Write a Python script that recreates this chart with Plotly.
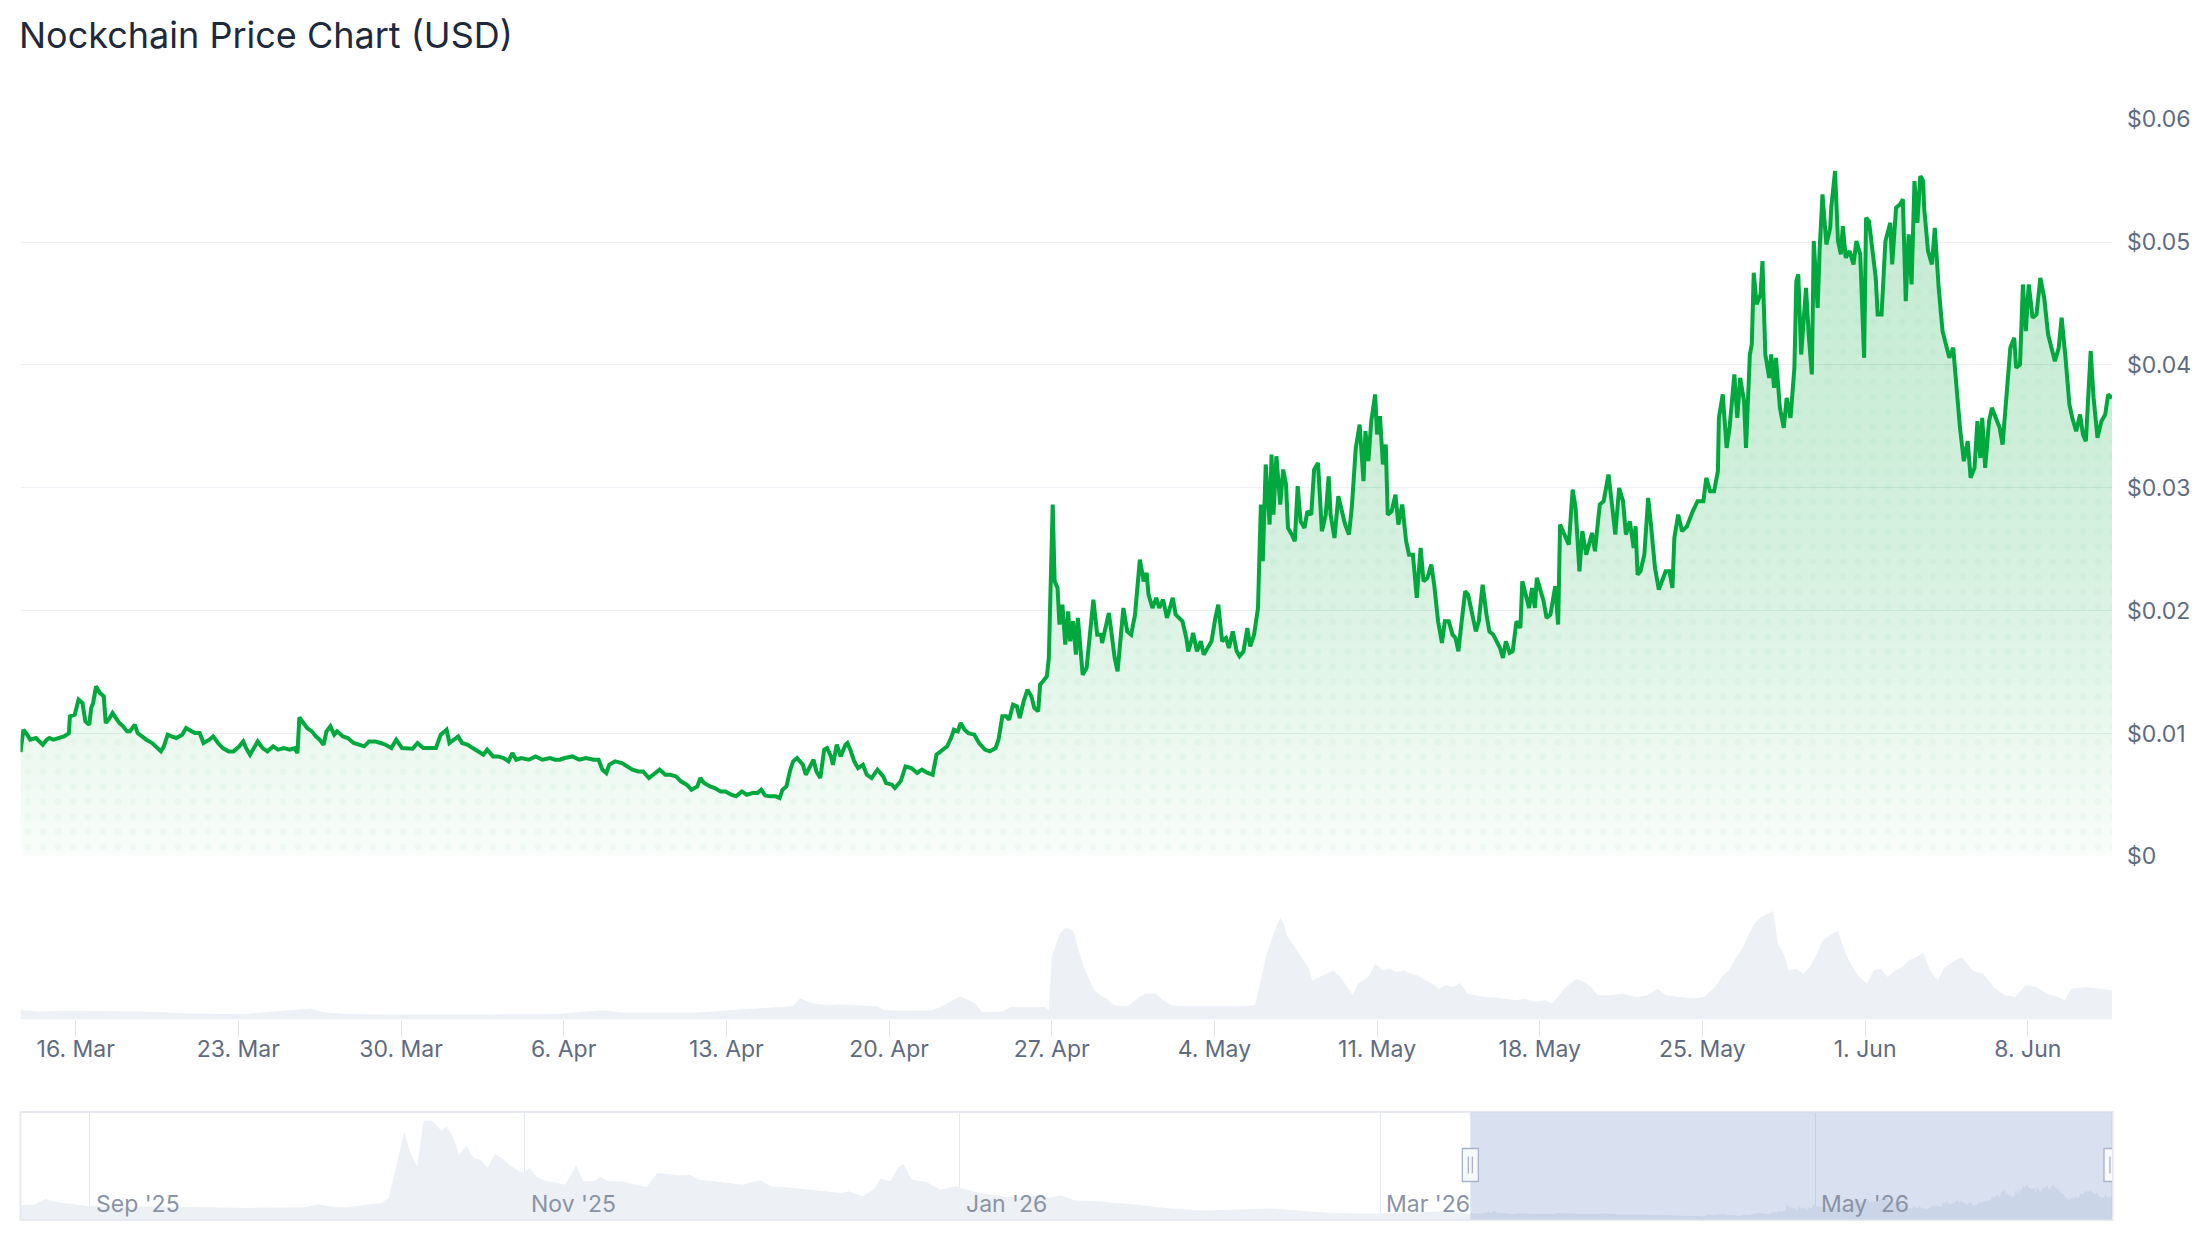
import pandas as pd
import plotly.graph_objects as go

W, FIG_H = 2208, 1248
# the captured picture maps figure pixel y to 0.9773*y + 12.8; targets are given in picture pixels
PIC_SCALE, PIC_OFF = 0.9773, 12.8
TITLE = "Nockchain Price Chart (USD)"

# ---------------- data ----------------
price_start = "2026-03-13 15:00"
price_hours = [
    0, 3, 7, 10, 16, 19, 23, 27, 30, 34, 40, 45, 50, 51, 56, 60, 64, 67, 71, 73, 75, 78, 82, 86, 88, 91, 95, 99,
    102, 106, 110, 113, 118, 121, 125, 130, 136, 141, 145, 148, 152, 156, 161, 167, 171, 174, 180, 185, 189, 195,
    199, 204, 209, 215, 220, 226, 230, 233, 237, 241, 245, 250, 255, 261, 266, 272, 278, 283, 286, 288, 292, 296,
    301, 305, 309, 313, 316, 320, 324, 327, 333, 338, 344, 349, 355, 360, 366, 372, 377, 383, 388, 394, 399, 405,
    410, 416, 421, 429, 434, 440, 443, 447, 452, 456, 462, 467, 473, 478, 482, 488, 493, 499, 504, 508, 512, 517,
    525, 532, 539, 547, 552, 557, 562, 570, 577, 584, 592, 597, 601, 605, 608, 614, 621, 627, 632, 638, 643, 649,
    655, 660, 666, 671, 677, 682, 688, 693, 699, 702, 706, 712, 717, 723, 728, 734, 739, 745, 750, 756, 761, 765,
    769, 774, 780, 784, 787, 791, 795, 798, 802, 808, 811, 815, 819, 822, 826, 830, 833, 837, 839, 843, 847, 852,
    854, 857, 861, 865, 870, 874, 879, 885, 891, 894, 900, 903, 909, 914, 920, 926, 931, 937, 942, 946, 951, 957,
    961, 964, 968, 971, 975, 979, 985, 990, 996, 1001, 1007, 1010, 1014, 1018, 1021, 1025, 1029, 1032, 1036, 1040,
    1044, 1047, 1051, 1053, 1056, 1060, 1062, 1064, 1066, 1068, 1071, 1073, 1076, 1079, 1082, 1084, 1087, 1090,
    1092, 1094, 1097, 1101, 1104, 1108, 1112, 1116, 1117, 1121, 1124, 1127, 1130, 1133, 1136, 1139, 1143, 1147,
    1151, 1154, 1156, 1160, 1163, 1165, 1169, 1173, 1176, 1180, 1184, 1187, 1190, 1193, 1197, 1200, 1204, 1206,
    1210, 1211, 1215, 1219, 1222, 1226, 1230, 1234, 1237, 1241, 1245, 1248, 1252, 1256, 1259, 1263, 1267, 1270,
    1274, 1278, 1281, 1283, 1286, 1290, 1292, 1294, 1297, 1301, 1304, 1307, 1309, 1313, 1316, 1319, 1322, 1326,
    1329, 1333, 1336, 1340, 1344, 1348, 1351, 1353, 1357, 1361, 1364, 1368, 1372, 1375, 1379, 1383, 1387, 1389,
    1392, 1395, 1399, 1401, 1404, 1407, 1410, 1412, 1416, 1420, 1423, 1427, 1431, 1434, 1438, 1442, 1446, 1449,
    1453, 1457, 1460, 1464, 1468, 1471, 1475, 1479, 1482, 1485, 1488, 1492, 1495, 1499, 1503, 1506, 1510, 1514,
    1517, 1521, 1525, 1528, 1531, 1534, 1538, 1541, 1545, 1549, 1551, 1554, 1558, 1561, 1564, 1566, 1569, 1573,
    1576, 1580, 1585, 1588, 1590, 1595, 1599, 1603, 1606, 1610, 1613, 1617, 1623, 1626, 1631, 1635, 1638, 1640,
    1644, 1647, 1651, 1655, 1658, 1662, 1666, 1668, 1670, 1673, 1677, 1681, 1684, 1688, 1692, 1695, 1699, 1703,
    1706, 1708, 1712, 1716, 1721, 1727, 1732, 1738, 1741, 1745, 1749, 1753, 1754, 1758, 1762, 1765, 1770, 1773,
    1776, 1780, 1782, 1786, 1788, 1790, 1793, 1797, 1799, 1802, 1806, 1808, 1811, 1813, 1817, 1821, 1824, 1828,
    1832, 1834, 1836, 1839, 1844, 1847, 1850, 1852, 1856, 1858, 1861, 1865, 1869, 1870, 1874, 1877, 1880, 1882,
    1885, 1889, 1893, 1896, 1900, 1904, 1906, 1909, 1913, 1916, 1918, 1922, 1926, 1931, 1933, 1937, 1941, 1944,
    1947, 1950, 1953, 1956, 1959, 1962, 1965, 1966, 1970, 1974, 1977, 1981, 1985, 1988, 1992, 1996, 2000, 2003,
    2007, 2011, 2014, 2018, 2021, 2024, 2026, 2029, 2033, 2036, 2040, 2044, 2047, 2051, 2055, 2059, 2061, 2065,
    2068, 2071, 2074, 2078, 2082, 2086, 2090, 2094, 2097, 2101, 2105, 2108, 2112, 2116, 2119, 2123, 2127, 2130,
    2133, 2138, 2141, 2145, 2149, 2153, 2156, 2160,
]
price_usd = [
    0.00850, 0.01031, 0.00991, 0.00950, 0.00964, 0.00936, 0.00909, 0.00950, 0.00964, 0.00950, 0.00964, 0.00977,
    0.01004, 0.01140, 0.01154, 0.01276, 0.01249, 0.01099, 0.01072, 0.01208, 0.01249, 0.01384, 0.01330, 0.01303,
    0.01086, 0.01113, 0.01167, 0.01113, 0.01086, 0.01059, 0.01018, 0.01018, 0.01072, 0.01004, 0.00977, 0.00950,
    0.00923, 0.00882, 0.00855, 0.00896, 0.00991, 0.00977, 0.00964, 0.00991, 0.01045, 0.01031, 0.01004, 0.01004,
    0.00923, 0.00950, 0.00977, 0.00923, 0.00882, 0.00855, 0.00855, 0.00896, 0.00936, 0.00882, 0.00828, 0.00882,
    0.00936, 0.00882, 0.00855, 0.00896, 0.00869, 0.00882, 0.00869, 0.00882, 0.00841, 0.01132, 0.01086, 0.01045,
    0.01018, 0.00977, 0.00950, 0.00909, 0.01018, 0.01059, 0.00991, 0.01018, 0.00977, 0.00964, 0.00923, 0.00909,
    0.00896, 0.00936, 0.00936, 0.00923, 0.00909, 0.00882, 0.00950, 0.00882, 0.00877, 0.00877, 0.00923, 0.00882,
    0.00882, 0.00882, 0.00991, 0.01031, 0.00923, 0.00950, 0.00977, 0.00923, 0.00909, 0.00882, 0.00855, 0.00828,
    0.00869, 0.00814, 0.00814, 0.00801, 0.00774, 0.00841, 0.00787, 0.00801, 0.00787, 0.00814, 0.00787, 0.00801,
    0.00787, 0.00787, 0.00801, 0.00814, 0.00787, 0.00801, 0.00787, 0.00787, 0.00706, 0.00679, 0.00746, 0.00774,
    0.00760, 0.00733, 0.00706, 0.00692, 0.00692, 0.00638, 0.00679, 0.00706, 0.00665, 0.00665, 0.00651, 0.00611,
    0.00584, 0.00543, 0.00570, 0.00638, 0.00597, 0.00570, 0.00557, 0.00529, 0.00529, 0.00502, 0.00489, 0.00529,
    0.00502, 0.00516, 0.00516, 0.00543, 0.00497, 0.00489, 0.00489, 0.00475, 0.00543, 0.00570, 0.00706, 0.00774,
    0.00801, 0.00746, 0.00665, 0.00733, 0.00787, 0.00692, 0.00638, 0.00869, 0.00882, 0.00814, 0.00746, 0.00909,
    0.00814, 0.00909, 0.00923, 0.00869, 0.00774, 0.00719, 0.00746, 0.00665, 0.00638, 0.00706, 0.00651, 0.00597,
    0.00584, 0.00557, 0.00611, 0.00733, 0.00719, 0.00679, 0.00706, 0.00679, 0.00665, 0.00828, 0.00855, 0.00896,
    0.00964, 0.01031, 0.01018, 0.01086, 0.01031, 0.01004, 0.00991, 0.00923, 0.00869, 0.00855, 0.00882, 0.00950,
    0.01140, 0.01140, 0.01113, 0.01235, 0.01222, 0.01127, 0.01262, 0.01357, 0.01303, 0.01208, 0.01181, 0.01398,
    0.01425, 0.01466, 0.01615, 0.02239, 0.02864, 0.02239, 0.02185, 0.01887, 0.02049, 0.01724, 0.01995, 0.01751,
    0.01914, 0.01642, 0.01941, 0.01751, 0.01479, 0.01534, 0.01778, 0.02090, 0.01805, 0.01805, 0.01737, 0.01859,
    0.01982, 0.01805, 0.01615, 0.01507, 0.01778, 0.02022, 0.01832, 0.01805, 0.01968, 0.02239, 0.02416, 0.02239,
    0.02307, 0.02131, 0.02022, 0.02104, 0.02022, 0.02090, 0.01941, 0.02022, 0.02104, 0.01968, 0.01941, 0.01914,
    0.01778, 0.01669, 0.01778, 0.01819, 0.01669, 0.01751, 0.01642, 0.01696, 0.01751, 0.01941, 0.02049, 0.01751,
    0.01778, 0.01696, 0.01832, 0.01669, 0.01629, 0.01669, 0.01859, 0.01710, 0.01805, 0.02022, 0.02864, 0.02402,
    0.03190, 0.02701, 0.03271, 0.02782, 0.03257, 0.02864, 0.03149, 0.03027, 0.02674, 0.02619, 0.02565, 0.03013,
    0.02728, 0.02674, 0.02809, 0.02782, 0.03149, 0.03203, 0.02647, 0.02782, 0.03094, 0.02782, 0.02592, 0.02932,
    0.02837, 0.02701, 0.02619, 0.02850, 0.03325, 0.03515, 0.03054, 0.03461, 0.03217, 0.03542, 0.03760, 0.03434,
    0.03583, 0.03190, 0.03352, 0.02782, 0.02809, 0.02945, 0.02701, 0.02864, 0.02565, 0.02456, 0.02456, 0.02104,
    0.02511, 0.02239, 0.02267, 0.02375, 0.02212, 0.01914, 0.01737, 0.01914, 0.01914, 0.01805, 0.01778, 0.01669,
    0.01887, 0.02158, 0.02131, 0.01968, 0.01832, 0.01914, 0.02212, 0.01968, 0.01832, 0.01805, 0.01751, 0.01696,
    0.01615, 0.01751, 0.01656, 0.01669, 0.01914, 0.01859, 0.02239, 0.02131, 0.02022, 0.02185, 0.02022, 0.02267,
    0.02185, 0.02077, 0.01941, 0.01968, 0.02199, 0.01887, 0.02701, 0.02619, 0.02538, 0.02986, 0.02837, 0.02321,
    0.02647, 0.02456, 0.02633, 0.02484, 0.02864, 0.02891, 0.03027, 0.03108, 0.02837, 0.02619, 0.02999, 0.02891,
    0.02619, 0.02728, 0.02511, 0.02687, 0.02294, 0.02321, 0.02456, 0.02918, 0.02687, 0.02348, 0.02172, 0.02239,
    0.02321, 0.02321, 0.02185, 0.02592, 0.02782, 0.02647, 0.02687, 0.02809, 0.02891, 0.02891, 0.03081, 0.02972,
    0.02972, 0.03135, 0.03569, 0.03760, 0.03325, 0.03488, 0.03923, 0.03569, 0.03895, 0.03705, 0.03325, 0.04085,
    0.04167, 0.04750, 0.04493, 0.04574, 0.04845, 0.04085, 0.03895, 0.04085, 0.03814, 0.04058, 0.03651, 0.03488,
    0.03732, 0.03569, 0.03977, 0.04682, 0.04737, 0.04085, 0.04628, 0.04221, 0.03923, 0.05008, 0.04465, 0.04927,
    0.05388, 0.04981, 0.05116, 0.05279, 0.05578, 0.05008, 0.04900, 0.05130, 0.04872, 0.04927, 0.04818, 0.05008,
    0.04900, 0.04058, 0.05198, 0.05171, 0.04872, 0.04709, 0.04411, 0.04411, 0.05008, 0.05157, 0.04818, 0.05279,
    0.05307, 0.05348, 0.04520, 0.05063, 0.04655, 0.05497, 0.05157, 0.05537, 0.05497, 0.05279, 0.04927, 0.04818,
    0.05116, 0.04628, 0.04275, 0.04194, 0.04058, 0.04140, 0.03732, 0.03488, 0.03217, 0.03380, 0.03081, 0.03162,
    0.03542, 0.03243, 0.03569, 0.03162, 0.03542, 0.03651, 0.03569, 0.03488, 0.03352, 0.03787, 0.04140, 0.04221,
    0.03977, 0.04004, 0.04655, 0.04275, 0.04655, 0.04384, 0.04411, 0.04709, 0.04546, 0.04248, 0.04140, 0.04031,
    0.04140, 0.04384, 0.04058, 0.03678, 0.03569, 0.03461, 0.03597, 0.03434, 0.03380, 0.04112, 0.03732, 0.03407,
    0.03542, 0.03597, 0.03760, 0.03732,
]

volume_hours = [
    0, 20, 51, 90, 124, 150, 174, 230, 290, 300, 312, 341, 450, 550, 602, 623, 700, 783, 797, 805, 819, 834, 848,
    870, 884, 892, 913, 942, 950, 971, 986, 993, 1015, 1022, 1058, 1062, 1065, 1073, 1080, 1087, 1098, 1109, 1115,
    1122, 1129, 1144, 1155, 1162, 1173, 1180, 1188, 1202, 1217, 1232, 1246, 1261, 1275, 1281, 1286, 1294, 1301,
    1305, 1308, 1316, 1323, 1330, 1334, 1341, 1348, 1356, 1363, 1370, 1376, 1381, 1392, 1399, 1407, 1414, 1421,
    1429, 1436, 1443, 1451, 1458, 1465, 1472, 1480, 1487, 1494, 1502, 1513, 1523, 1534, 1545, 1553, 1564, 1575,
    1582, 1589, 1596, 1607, 1615, 1622, 1629, 1640, 1655, 1669, 1680, 1691, 1699, 1713, 1728, 1739, 1750, 1757,
    1764, 1772, 1779, 1785, 1790, 1797, 1804, 1810, 1815, 1821, 1826, 1834, 1841, 1848, 1855, 1861, 1870, 1877,
    1885, 1892, 1899, 1907, 1914, 1921, 1928, 1936, 1943, 1950, 1958, 1965, 1972, 1980, 1987, 1998, 2005, 2016,
    2027, 2038, 2049, 2060, 2071, 2082, 2093, 2104, 2111, 2118, 2133, 2144, 2160,
]
volume_k = [
    280, 240, 260, 250, 240, 210, 180, 160, 320, 330, 220, 160, 150, 160, 280, 200, 210, 360, 400, 630, 480, 430, 450,
    420, 400, 280, 260, 280, 380, 700, 480, 220, 240, 380, 380, 280, 1880, 2580, 2780, 2680, 1580, 880, 730,
    630, 430, 400, 680, 780, 780, 580, 430, 400, 400, 380, 380, 400, 430, 1280, 1880, 2580, 3080,
    2880, 2530, 2180, 1880, 1580, 1180, 1280, 1380, 1480, 1280, 980, 730, 1080, 1280, 1680, 1480, 1530, 1430,
    1480, 1380, 1330, 1180, 1080, 930, 1030, 980, 1100, 780, 730, 680, 660, 630, 580, 630, 530, 580,
    480, 730, 980, 1230, 1130, 980, 730, 730, 780, 680, 730, 930, 730, 680, 630, 680, 980, 1280,
    1480, 1880, 2180, 2580, 2880, 3080, 3180, 3280, 2280, 1980, 1480, 1530, 1380, 1580, 1980, 2380, 2580, 2680,
    1980, 1580, 1280, 1080, 1480, 1530, 1280, 1480, 1580, 1780, 1880, 2030, 1480, 1180, 1580, 1780, 1880, 1480,
    1380, 980, 730, 680, 1030, 980, 780, 680, 580, 930, 980, 930, 880,
]

nav_origin = "2025-09-01"
nav_days = [
    -9.73, -7.75, -6.26, -5.27, -3.78, -1.79, 0, 7.1, 13.1, 17.1, 22.0, 27.0, 30.0, 32.0, 33.9, 35.9, 37.9, 40.9,
    41.9, 42.9, 44.1, 44.9, 45.9, 46.8, 48.0, 49.3, 50.0, 50.8, 51.8, 52.8, 53.8, 54.8, 55.8, 56.8, 57.8, 58.8,
    60.2, 60.8, 61.7, 62.7, 64.2, 65.7, 66.7, 68.2, 69.2, 70.7, 71.7, 72.6, 74.6, 76.6, 78.1, 79.6, 81.1, 82.6,
    84.1, 85.5, 87.5, 89.5, 91.5, 94.0, 95.5, 97.5, 99.4, 102.4, 105.4, 106.4, 108.4, 109.9, 110.9, 112.3, 113.3,
    114.1, 115.3, 117.3, 119.3, 121.3, 124.3, 126.2, 128.2, 130.2, 132.2, 134.2, 136.2, 138.2, 141.1, 146.5,
    151.5, 156.4, 161.4, 165.4, 169.3, 174.3, 179.2, 181.2, 186.2, 191.1,
]
nav_price = [
    0.0227, 0.0237, 0.0327, 0.0290, 0.0264, 0.0237, 0.0211, 0.0206, 0.0206, 0.0195, 0.0184, 0.0184, 0.0195, 0.0237,
    0.0206, 0.0195, 0.0227, 0.0264, 0.0343, 0.0817, 0.1386, 0.1080, 0.0827, 0.1565, 0.1565, 0.1407, 0.1470, 0.1344,
    0.1028, 0.1175, 0.0975, 0.0949, 0.0817, 0.1038, 0.0975, 0.0870, 0.0764, 0.0738, 0.0817, 0.0669, 0.0606, 0.0580,
    0.0553, 0.0859, 0.0606, 0.0606, 0.0680, 0.0606, 0.0606, 0.0553, 0.0511, 0.0738, 0.0722, 0.0701, 0.0711, 0.0632,
    0.0606, 0.0580, 0.0553, 0.0622, 0.0527, 0.0511, 0.0490, 0.0458, 0.0422, 0.0448, 0.0369, 0.0474, 0.0648, 0.0606,
    0.0817, 0.0880, 0.0632, 0.0596, 0.0474, 0.0527, 0.0437, 0.0395, 0.0369, 0.0343, 0.0379, 0.0343, 0.0385, 0.0300,
    0.0290, 0.0237, 0.0174, 0.0142, 0.0158, 0.0174, 0.0142, 0.0105, 0.0095, 0.0095, 0.0116, 0.0132,
]

week_ticks = ["2026-03-16", "2026-03-23", "2026-03-30", "2026-04-06", "2026-04-13", "2026-04-20", "2026-04-27",
              "2026-05-04", "2026-05-11", "2026-05-18", "2026-05-25", "2026-06-01", "2026-06-08"]
week_labels = ["16. Mar", "23. Mar", "30. Mar", "6. Apr", "13. Apr", "20. Apr", "27. Apr",
               "4. May", "11. May", "18. May", "25. May", "1. Jun", "8. Jun"]
nav_ticks = ["2025-09-01", "2025-11-01", "2026-01-01", "2026-03-01", "2026-05-01"]
nav_labels = ["Sep '25", "Nov '25", "Jan '26", "Mar '26", "May '26"]
price_ticks = [0, 0.01, 0.02, 0.03, 0.04, 0.05, 0.06]
price_labels = ["$0", "$0.01", "$0.02", "$0.03", "$0.04", "$0.05", "$0.06"]

# ---------------- derived series ----------------
t0 = pd.Timestamp(price_start)
price_x = t0 + pd.to_timedelta(price_hours, unit="h")
vol_x = t0 + pd.to_timedelta(volume_hours, unit="h")
t_end = t0 + pd.Timedelta(hours=price_hours[-1])
nav_hist_x = pd.Timestamp(nav_origin) + pd.to_timedelta(nav_days, unit="D")
nav_x = list(nav_hist_x) + list(price_x)
nav_y = list(nav_price) + list(price_usd)
nav_start = nav_hist_x[0]


def px(x):
    return x / W


def py(y):
    # y in pixels of the final picture -> paper coordinate of the figure
    fig_y = (y - PIC_OFF) / PIC_SCALE
    return 1 - fig_y / FIG_H


def dpy(h):
    return h / PIC_SCALE


X_DOM = [px(20.5), px(2112)]
FONT = "Inter, 'Noto Sans', sans-serif"
GREEN = "#00a83e"
LABEL = "#5f6b80"

fig = go.Figure()

# gradient area under the price line
fig.add_trace(go.Scatter(
    x=price_x, y=price_usd, mode="lines", xaxis="x", yaxis="y",
    line=dict(color="rgba(0,0,0,0)", width=0),
    fill="tozeroy",
    fillgradient=dict(
        type="vertical", start=0, stop=0.056,
        colorscale=[[0, "rgba(0,168,62,0.01)"], [0.1, "rgba(0,168,62,0.05)"],
                    [0.2, "rgba(0,168,62,0.08)"], [0.4, "rgba(0,168,62,0.15)"],
                    [0.6, "rgba(0,168,62,0.19)"], [1, "rgba(0,168,62,0.23)"]],
    ),
    hoverinfo="skip", showlegend=False,
))
# faint dotted texture inside the area, plus the price line itself
fig.add_trace(go.Scatter(
    x=price_x, y=price_usd, mode="lines", xaxis="x", yaxis="y",
    line=dict(color=GREEN, width=4),
    fill="tozeroy", fillcolor="rgba(0,0,0,0)",
    fillpattern=dict(shape=".", size=15, solidity=0.18, fgcolor="rgba(0,168,62,0.07)",
                     bgcolor="rgba(0,0,0,0)", fillmode="overlay"),
    hoverinfo="skip", showlegend=False,
))

fig.add_trace(go.Scatter(
    x=vol_x, y=volume_k, mode="lines", xaxis="x", yaxis="y3",
    line=dict(width=0, color="#edf0f4"), fill="tozeroy", fillcolor="#edf0f4",
    hoverinfo="skip", showlegend=False,
))

fig.add_trace(go.Scatter(
    x=nav_x, y=nav_y, mode="lines", xaxis="x2", yaxis="y2",
    line=dict(width=0, color="#edf0f4"), fill="tozeroy", fillcolor="#edf0f4",
    hoverinfo="skip", showlegend=False,
))

shapes = []
shapes.append(dict(type="rect", xref="paper", yref="paper", x0=px(20.5), x1=px(2112.5),
                   y0=py(1218.5), y1=py(1110.5), line=dict(color="#e6eaf0", width=2),
                   fillcolor="rgba(0,0,0,0)", layer="above"))
shapes.append(dict(type="rect", xref="x2", yref="paper", x0=t0, x1=t_end,
                   y0=py(1218), y1=py(1111), line=dict(width=0),
                   fillcolor="rgba(102,133,194,0.25)", layer="above"))
for anchor in (t0, t_end):
    shapes.append(dict(type="rect", xref="x2", yref="paper", xsizemode="pixel", xanchor=anchor,
                       x0=-8, x1=8, y0=py(1180), y1=py(1147),
                       fillcolor="#f7f9fc", line=dict(color="#a9b4ca", width=1.3), layer="above"))
    for off in (-2, 2):
        shapes.append(dict(type="line", xref="x2", yref="paper", xsizemode="pixel", xanchor=anchor,
                           x0=off, x1=off, y0=py(1172), y1=py(1155),
                           line=dict(color="#a9b4ca", width=1.3), layer="above"))

annotations = [dict(text=TITLE, xref="paper", yref="paper", x=px(17), y=py(34),
                    xanchor="left", yanchor="middle", showarrow=False,
                    font=dict(family=FONT, size=36, color="#1e293b"))]
for t, lab in zip(nav_ticks, nav_labels):
    annotations.append(dict(text=lab, xref="x2", yref="paper", x=t, y=py(1202),
                            xanchor="left", yanchor="middle", xshift=4, showarrow=False,
                            font=dict(family=FONT, size=23, color="#8a93a5")))

fig.update_layout(
    width=W, height=FIG_H, margin=dict(l=0, r=0, t=0, b=0),
    paper_bgcolor="white", plot_bgcolor="white",
    font=dict(family=FONT),
    showlegend=False,
    shapes=shapes, annotations=annotations,
    xaxis=dict(domain=X_DOM, range=[t0, t_end], anchor="y3", type="date",
               tickvals=week_ticks, ticktext=week_labels, ticks="outside", ticklen=dpy(16),
               tickcolor="#e3e7ed", tickwidth=1, showgrid=False, showline=False, zeroline=False,
               ticklabelstandoff=-7,
               tickfont=dict(family=FONT, size=23, color=LABEL)),
    yaxis=dict(domain=[py(855), py(118)], range=[0, 0.06], side="right", anchor="x",
               tickvals=price_ticks, ticktext=price_labels, showgrid=True, gridcolor="#eceff3",
               gridwidth=1, zeroline=False, showline=False, ticks="", ticklabelstandoff=14,
               tickfont=dict(family=FONT, size=23, color=LABEL)),
    yaxis3=dict(domain=[py(1018), py(880)], range=[0, 4170], anchor="x",
                showticklabels=False, showgrid=False, zeroline=False, showline=False),
    xaxis2=dict(domain=X_DOM, range=[nav_start, t_end], anchor="y2", type="date",
                tickvals=nav_ticks, showticklabels=False, showgrid=True, gridcolor="#e6eaf0",
                gridwidth=1, ticks="", showline=False, zeroline=False),
    yaxis2=dict(domain=[py(1218), py(1111)], range=[0, 0.1697], anchor="x2",
                showticklabels=False, showgrid=False, zeroline=False, showline=False),
)

fig.write_html("out.html")
